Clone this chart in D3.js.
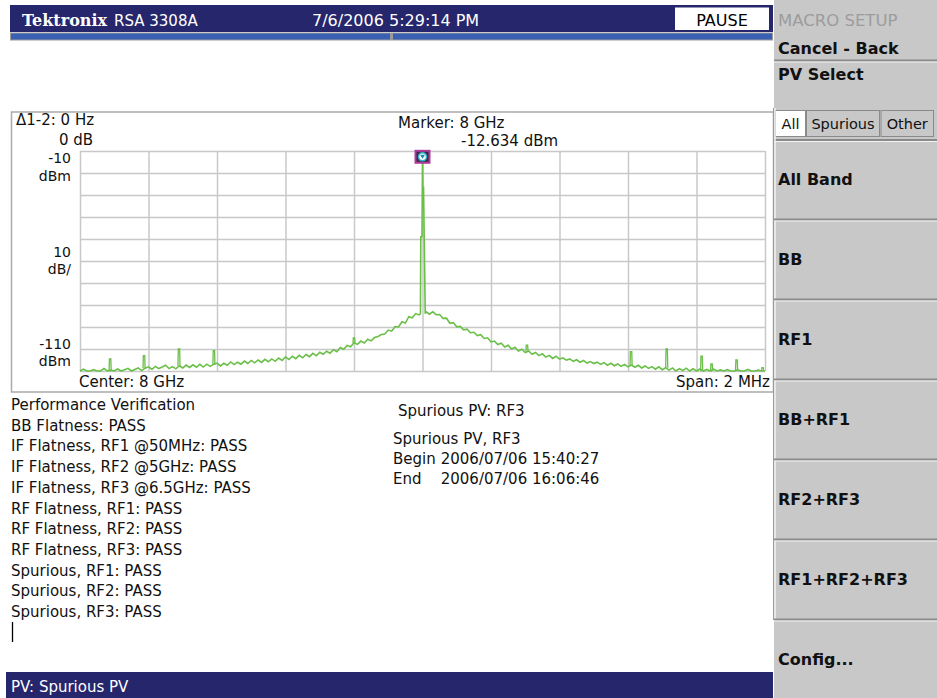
<!DOCTYPE html>
<html><head><meta charset="utf-8">
<script src="https://cdn.jsdelivr.net/npm/d3@7"></script>
<style>
html,body{margin:0;padding:0;background:#fff;overflow:hidden;}
text{font-family:"DejaVu Sans",sans-serif;}
</style></head>
<body>
<svg id="c" width="937" height="698"></svg>
<script>
// ---------- DATA ----------
const spanKHz = [-1000, 1000];          // frequency offset from 8 GHz centre, kHz
const levelRange = [-110, -10];          // dBm
const traceStepKHz = 10;
const traceLevels = [
 -110,-109.2,-110,-110,-109.4,-110,-110,-108.9,-110,-109.6,
 -110,-109.1,-110,-109.4,-108.8,-110,-109.3,-108.6,-109.8,-108.7,
 -108.1,-109.2,-107.9,-108.9,-108.2,-107.4,-108.9,-108.0,-109.0,-107.6,
 -108.6,-107.3,-108.4,-107.2,-108.3,-107.0,-108.2,-106.9,-107.9,-107.0,
 -106.4,-107.7,-106.5,-107.4,-105.9,-107.1,-106.0,-106.9,-105.5,-106.6,
 -105.2,-106.3,-105.0,-106.1,-104.7,-105.8,-104.5,-105.6,-104.1,-105.2,
 -103.6,-104.8,-103.3,-104.4,-102.9,-104.0,-102.5,-103.5,-102.0,-103.1,
 -101.5,-102.4,-101.0,-101.9,-100.3,-101.2,-99.3,-100.1,-98.4,-99.0,
 -97.2,-97.9,-96.4,-97.3,-95.6,-96.3,-94.8,-94.3,-93.4,-93.2,
 -91.4,-91.9,-89.8,-90.0,-87.6,-88.2,-85.3,-85.8,-83.9,-84.5,
 -83.6,
 -83.0,-84.2,-83.1,-84.4,-84.3,-86.1,-86.0,-88.3,-88.0,-89.9,
 -89.7,-91.3,-91.0,-92.6,-92.4,-93.9,-93.5,-95.2,-94.9,-96.8,
 -96.4,-98.0,-97.4,-99.1,-98.3,-100.0,-99.2,-100.9,-100.1,-101.6,
 -100.9,-102.4,-101.6,-103.0,-102.2,-103.7,-102.9,-104.3,-103.3,-104.6,
 -104.0,-105.1,-104.5,-105.6,-104.9,-106.0,-105.2,-106.4,-105.7,-106.6,
 -106.0,-107.0,-106.2,-107.4,-106.5,-107.6,-106.8,-107.9,-107.0,-108.1,
 -107.3,-108.3,-107.4,-108.6,-107.7,-108.8,-108.0,-109.2,-108.1,-109.4,
 -108.5,-109.6,-108.6,-110,-108.9,-109.8,-108.7,-110,-109.0,-110,
 -109.1,-110,-109.3,-110,-109.2,-110,-109.5,-110,-109.4,-110,
 -110,-109.5,-110,-110,-109.3,-110,-110,-109.6,-110,-110
];
const carrierFreqs  = [-6, -5, -1.5, 0, 1, 3, 8];
const carrierLevels = [-84, -49, -49, -12.634, -26.4, -26.4, -84];
const spurFreqs  = [-912, -813, -711, -609, -200, 305, 609, 713, 815, 844, 917, 993];
const spurLevels = [-104.5, -103, -100, -100.8, -95, -98.3, -101.2, -100, -103.3, -106.8, -105, -108.5];
const markerFreq = 0, markerLevel = -12.634;

const leftResults = ["Performance Verification","BB Flatness: PASS","IF Flatness, RF1 @50MHz: PASS",
 "IF Flatness, RF2 @5GHz: PASS","IF Flatness, RF3 @6.5GHz: PASS","RF Flatness, RF1: PASS",
 "RF Flatness, RF2: PASS","RF Flatness, RF3: PASS","Spurious, RF1: PASS","Spurious, RF2: PASS","Spurious, RF3: PASS"];
const menuButtons = ["All Band","BB","RF1","BB+RF1","RF2+RF3","RF1+RF2+RF3","Config..."];
const tabs = ["All","Spurious","Other"];

// ---------- DRAW ----------
const svg = d3.select("#c");
const navy = "#26266c";
svg.append("rect").attr("width",937).attr("height",698).attr("fill","#fff");

// top bar
svg.append("rect").attr("x",10).attr("y",5).attr("width",763).attr("height",27).attr("fill",navy);
svg.append("text").attr("x",22).attr("y",26).attr("fill","#fff").style("font-family","'DejaVu Serif',serif")
  .style("font-weight","bold").style("font-size","16px").text("Tektronix");
svg.append("text").attr("x",114).attr("y",26).attr("fill","#fff").style("font-size","15px").text("RSA 3308A");
svg.append("text").attr("x",312).attr("y",26).attr("fill","#fff").style("font-size","16px").text("7/6/2006 5:29:14 PM");
svg.append("rect").attr("x",675).attr("y",7.5).attr("width",94).attr("height",22.5).attr("fill","#fff");
svg.append("text").attr("x",722).attr("y",26).attr("text-anchor","middle").attr("fill","#000").style("font-size","16px").text("PAUSE");
// progress bar
svg.append("rect").attr("x",10).attr("y",32.5).attr("width",763).attr("height",8).attr("fill","#9a9a9a");
svg.append("rect").attr("x",11).attr("y",33.5).attr("width",379).attr("height",6).attr("fill","#3a60b4");
svg.append("rect").attr("x",393).attr("y",33.5).attr("width",379).attr("height",6).attr("fill","#3a60b4");

// plot frame
svg.append("rect").attr("x",11.5).attr("y",112).attr("width",762).attr("height",280)
  .attr("fill","none").attr("stroke","#aaa").attr("stroke-width",1.5);

const x = d3.scaleLinear().domain(spanKHz).range([80, 765]);
const y = d3.scaleLinear().domain(levelRange).range([371, 151]);
const g = svg.append("g");
const xTickVals = d3.range(spanKHz[0], spanKHz[1] + 1, 200);
const yTickVals = d3.range(levelRange[0], levelRange[1] + 1, 10);
g.append("g").attr("transform","translate(0,371)")
  .call(d3.axisBottom(x).tickValues(xTickVals).tickSize(-220).tickFormat(""))
  .call(a => a.select(".domain").remove())
  .call(a => a.selectAll("line").attr("stroke","#c8c8c8").attr("stroke-width",1.5));
g.append("g").attr("transform","translate(80,0)")
  .call(d3.axisLeft(y).tickValues(yTickVals).tickSize(-685).tickFormat(""))
  .call(a => a.select(".domain").remove())
  .call(a => a.selectAll("line").attr("stroke","#c8c8c8").attr("stroke-width",1.5));

// trace
const trace = traceLevels.map((v,i) => ({f: spanKHz[0] + i*traceStepKHz, v}))
  .filter(d => Math.abs(d.f) >= 10)
  .concat(carrierFreqs.map((f,i) => ({f, v: carrierLevels[i]})))
  .sort((a,b) => a.f - b.f);
const line = d3.line().x(d => x(d.f)).y(d => y(Math.max(levelRange[0], d.v)));
const green = "#6abf48";
g.append("path").datum(trace).attr("d", line).attr("fill","none").attr("stroke",green).attr("stroke-width",1.6);
spurFreqs.forEach((f,i) => {
  const base = traceLevels[Math.round((f - spanKHz[0]) / traceStepKHz)];
  const pts = [{f:f-3,v:base},{f:f-2,v:spurLevels[i]},{f:f+2,v:spurLevels[i]},{f:f+3,v:base}];
  g.append("path").datum(pts).attr("d", line).attr("fill","none").attr("stroke",green).attr("stroke-width",1.3);
});

// marker
const mx = x(markerFreq), my = y(markerLevel);
svg.append("rect").attr("x",mx-7).attr("y",my-6).attr("width",14).attr("height",12)
  .attr("fill","#3a2a4a").attr("stroke","#b03a9a").attr("stroke-width",2);
svg.append("circle").attr("cx",mx).attr("cy",my).attr("r",4).attr("fill","#fff").attr("stroke","#2ab0c8").attr("stroke-width",1.5);
svg.append("path").attr("d",`M${mx-2.5},${my-2}L${mx+2.5},${my-2}L${mx},${my+2}Z`).attr("fill","#1a8aa0");

// plot labels
const lab = (t,xx,yy,anchor,size) => svg.append("text").attr("x",xx).attr("y",yy)
  .attr("text-anchor",anchor||"start").attr("fill","#111").style("font-size",(size||15)+"px").text(t);
lab("Δ1-2: 0 Hz",16,125);
lab("0 dB",93,145,"end");
lab(String(levelRange[1]),71,163,"end",14);
lab("dBm",71,181,"end",14);
lab("10",71,257,"end",14);
lab("dB/",71,274,"end",14);
lab(String(levelRange[0]),71,349,"end",14);
lab("dBm",71,366,"end",14);
lab("Center: 8 GHz",79,387);
lab("Span: 2 MHz",770,387,"end");
lab("Marker: 8 GHz",398,128);
lab(`${markerLevel} dBm`,461,146);

// result texts
leftResults.forEach((t,i) => lab(t,11,410 + i*20.7));
svg.append("line").attr("x1",12.5).attr("x2",12.5).attr("y1",622).attr("y2",642).attr("stroke","#000").attr("stroke-width",1.3);
lab("Spurious PV: RF3",398,416);
lab("Spurious PV, RF3",393,444);
const beginT = lab("Begin",393,464);
const dateX = 393 + beginT.node().getComputedTextLength() + 5;
lab("2006/07/06 15:40:27",dateX,464);
lab("End",393,484);
lab("2006/07/06 16:06:46",dateX,484);

// status bar
svg.append("rect").attr("x",6).attr("y",672).attr("width",767).attr("height",26).attr("fill",navy);
svg.append("text").attr("x",11).attr("y",692).attr("fill","#fff").style("font-size","15px").text("PV: Spurious PV");

// right panel
const panel = svg.append("g");
panel.append("rect").attr("x",774).attr("y",0).attr("width",163).attr("height",698).attr("fill","#c8c8c8");
panel.append("text").attr("x",778).attr("y",26).attr("fill","#9c9c9c").style("font-size","16.5px").text("MACRO SETUP");
panel.append("text").attr("x",778).attr("y",54).attr("fill","#111").style("font-size","16px").style("font-weight","bold").text("Cancel - Back");
const sep = yy => {
  panel.append("line").attr("x1",774).attr("x2",937).attr("y1",yy).attr("y2",yy).attr("stroke","#8a8a8a").attr("stroke-width",2);
  panel.append("line").attr("x1",774).attr("x2",937).attr("y1",yy+1.5).attr("y2",yy+1.5).attr("stroke","#f2f2f2").attr("stroke-width",1);
};
sep(60.5);
panel.append("text").attr("x",778).attr("y",80).attr("fill","#111").style("font-size","16px").style("font-weight","bold").text("PV Select");
const tabX = [775, 806, 880.5], tabW = [30, 73, 52.5];
tabs.forEach((t,i) => {
  panel.append("rect").attr("x",tabX[i]+0.5).attr("y",110.5).attr("width",tabW[i]).attr("height",26)
    .attr("fill", i===0 ? "#fff" : "#c8c8c8").attr("stroke","#8a8a8a");
  panel.append("text").attr("x",tabX[i]+tabW[i]/2+0.5).attr("y",129).attr("text-anchor","middle")
    .attr("fill","#111").style("font-size","14.5px").text(t);
});
sep(140);
panel.append("line").attr("x1",775).attr("x2",775).attr("y1",108).attr("y2",620).attr("stroke","#f2f2f2").attr("stroke-width",1.5);
panel.append("line").attr("x1",773.5).attr("x2",773.5).attr("y1",108).attr("y2",620).attr("stroke","#9a9a9a").attr("stroke-width",1);
menuButtons.forEach((t,i) => {
  const y0 = 141 + i*80;
  panel.append("text").attr("x",778).attr("y",y0 + 44).attr("fill","#111")
    .style("font-size","16px").style("font-weight","bold").text(t);
  if (i < menuButtons.length - 1) sep(y0 + 78.5);
});
</script>
</body></html>
